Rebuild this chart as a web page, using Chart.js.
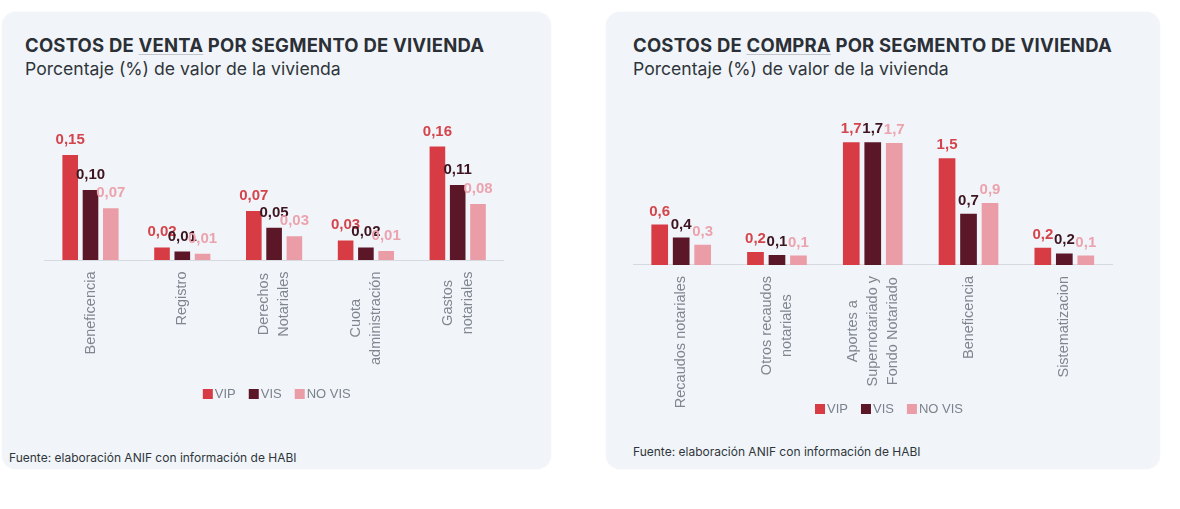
<!DOCTYPE html>
<html><head><meta charset="utf-8">
<script src="https://cdn.jsdelivr.net/npm/chart.js@4.4.0/dist/chart.umd.min.js"></script>
<style>
html,body{margin:0;padding:0;background:#fff;width:1180px;height:509px;overflow:hidden;}
.card{position:absolute;background:#f1f5fa;border-radius:14px;box-shadow:0 0 2px rgba(0,0,0,0.05);}
.title{position:absolute;font-family:Inter,sans-serif;font-weight:700;font-size:18.5px;letter-spacing:0.2px;line-height:18px;color:#2b3036;white-space:nowrap;}
.title u{text-decoration-color:#c2c6cc;text-decoration-thickness:1.2px;text-underline-offset:2px;}
.sub{position:absolute;font-family:Inter,sans-serif;font-size:17.6px;line-height:17px;color:#30353b;white-space:nowrap;}
.src{position:absolute;font-family:Inter,sans-serif;font-size:12px;line-height:12px;color:#30353b;white-space:nowrap;}
.box{position:absolute;}
</style></head><body>
<div class="card" style="left:2px;top:12px;width:549px;height:457px"></div>
<div class="card" style="left:606px;top:12px;width:554px;height:457px"></div>
<div class="title" style="left:25px;top:36px">COSTOS DE <u>VENTA</u> POR SEGMENTO DE VIVIENDA</div>
<div class="sub" style="left:25px;top:60px">Porcentaje (%) de valor de la vivienda</div>
<div class="src" style="left:9px;top:452px">Fuente: elaboración ANIF con información de HABI</div>
<div class="title" style="left:633px;top:36px">COSTOS DE <u>COMPRA</u> POR SEGMENTO DE VIVIENDA</div>
<div class="sub" style="left:633px;top:60px">Porcentaje (%) de valor de la vivienda</div>
<div class="src" style="left:633px;top:446px">Fuente: elaboración ANIF con información de HABI</div>
<div class="box" style="left:2px;top:12px;width:549px;height:457px"><canvas id="c1"></canvas></div>
<div class="box" style="left:606px;top:12px;width:554px;height:457px"><canvas id="c2"></canvas></div>
<script>
const seriesNames = ['VIP', 'VIS', 'NO VIS'];
const barColors = ['#d73b43', '#5b1628', '#ea9ca7'];
const valueColors = ['#d4444b', '#3d1420', '#eba3ad'];

const ventaCategories = ['Beneficencia', 'Registro', ['Derechos', 'Notariales'], ['Cuota', 'administración'], ['Gastos', 'notariales']];
const ventaVIP = [0.150, 0.018, 0.070, 0.028, 0.162];
const ventaVIS = [0.100, 0.012, 0.046, 0.018, 0.107];
const ventaNOVIS = [0.074, 0.009, 0.034, 0.013, 0.080];

const compraCategories = ['Recaudos notariales', ['Otros recaudos', 'notariales'], ['Aportes a', 'Supernotariado y', 'Fondo Notariado'], 'Beneficencia', 'Sistematizacion'];
const compraVIP = [0.56, 0.18, 1.70, 1.48, 0.24];
const compraVIS = [0.38, 0.14, 1.70, 0.71, 0.16];
const compraNOVIS = [0.28, 0.13, 1.69, 0.86, 0.13];

const valueLabels = {
  id: 'valueLabels',
  afterDatasetsDraw(chart, args, opts) {
    const ctx = chart.ctx;
    ctx.save();
    ctx.font = 'bold 15px "Liberation Sans", Arial, sans-serif';
    ctx.textAlign = 'center';
    ctx.textBaseline = 'alphabetic';
    chart.data.datasets.forEach((ds, i) => {
      const meta = chart.getDatasetMeta(i);
      ctx.fillStyle = valueColors[i];
      meta.data.forEach((bar, j) => {
        const txt = ds.data[j].toFixed(opts.decimals).replace('.', ',');
        ctx.fillText(txt, bar.x, bar.y - opts.offset);
      });
    });
    ctx.restore();
  }
};

const xLabels = {
  id: 'xLabels',
  afterDraw(chart, args, opts) {
    const ctx = chart.ctx;
    const scale = chart.scales.x;
    ctx.save();
    ctx.font = '14.5px "Liberation Sans", Arial, sans-serif';
    ctx.fillStyle = '#80868f';
    chart.data.labels.forEach((lab, i) => {
      const lines = Array.isArray(lab) ? lab : [lab];
      const x = scale.getPixelForTick(i);
      const maxW = Math.max(...lines.map(l => ctx.measureText(l).width));
      const top = chart.chartArea.bottom + opts.offset;
      ctx.save();
      ctx.translate(x, top + maxW / 2);
      ctx.rotate(-Math.PI / 2);
      ctx.textAlign = 'center';
      ctx.textBaseline = 'middle';
      lines.forEach((l, k) => ctx.fillText(l, 0, (k - (lines.length - 1) / 2) * opts.lineHeight));
      ctx.restore();
    });
    ctx.restore();
  }
};

const customLegend = {
  id: 'customLegend',
  afterDraw(chart, args, opts) {
    const ctx = chart.ctx;
    ctx.save();
    ctx.font = '13px "Liberation Sans", Arial, sans-serif';
    const box = 10, gap = 2, spacing = 13;
    const items = chart.data.datasets.map(ds => ({ text: ds.label, color: ds.backgroundColor, w: ctx.measureText(ds.label).width }));
    const total = items.reduce((s, it) => s + box + gap + it.w, 0) + spacing * (items.length - 1);
    let x = opts.cx - total / 2;
    ctx.textBaseline = 'middle';
    ctx.textAlign = 'left';
    items.forEach(it => {
      ctx.fillStyle = it.color;
      ctx.fillRect(x, opts.cy - box / 2, box, box);
      x += box + gap;
      ctx.fillStyle = '#7b828c';
      ctx.fillText(it.text, x, opts.cy + 0.5);
      x += it.w + spacing;
    });
    ctx.restore();
  }
};

function makeChart(id, labels, series, cfg) {
  return new Chart(document.getElementById(id), {
    type: 'bar',
    data: {
      labels: labels,
      datasets: series.map((d, i) => ({ label: seriesNames[i], data: d, backgroundColor: barColors[i], borderWidth: 0 }))
    },
    options: {
      responsive: true,
      maintainAspectRatio: false,
      animation: false,
      layout: { padding: cfg.padding },
      datasets: { bar: { categoryPercentage: cfg.cat, barPercentage: cfg.bar } },
      scales: {
        x: {
          grid: { display: false, drawTicks: false },
          border: { display: true, color: '#d6dae0', width: 1 },
          ticks: { display: false }
        },
        y: { display: false, min: 0, max: cfg.max }
      },
      plugins: {
        legend: { display: false },
        tooltip: { enabled: false },
        valueLabels: { decimals: cfg.decimals, offset: cfg.valOffset },
        xLabels: { offset: cfg.labOffset, lineHeight: 20 },
        customLegend: { cx: cfg.legendX, cy: cfg.legendY }
      }
    },
    plugins: [valueLabels, xLabels, customLegend]
  });
}

makeChart('c1', ventaCategories, [ventaVIP, ventaVIS, ventaNOVIS], {
  padding: { left: 42.6, right: 47.4, top: 108, bottom: 209 },
  cat: 0.663, bar: 0.77, max: 0.2, decimals: 2, valOffset: 11,
  labOffset: 11.5, legendX: 274.8, legendY: 382
});
makeChart('c2', compraCategories, [compraVIP, compraVIS, compraNOVIS], {
  padding: { left: 27.3, right: 47.8, top: 108.6, bottom: 204 },
  cat: 0.673, bar: 0.777, max: 2.0, decimals: 1, valOffset: 9,
  labOffset: 11, legendX: 283, legendY: 397
});
</script>
</body></html>
